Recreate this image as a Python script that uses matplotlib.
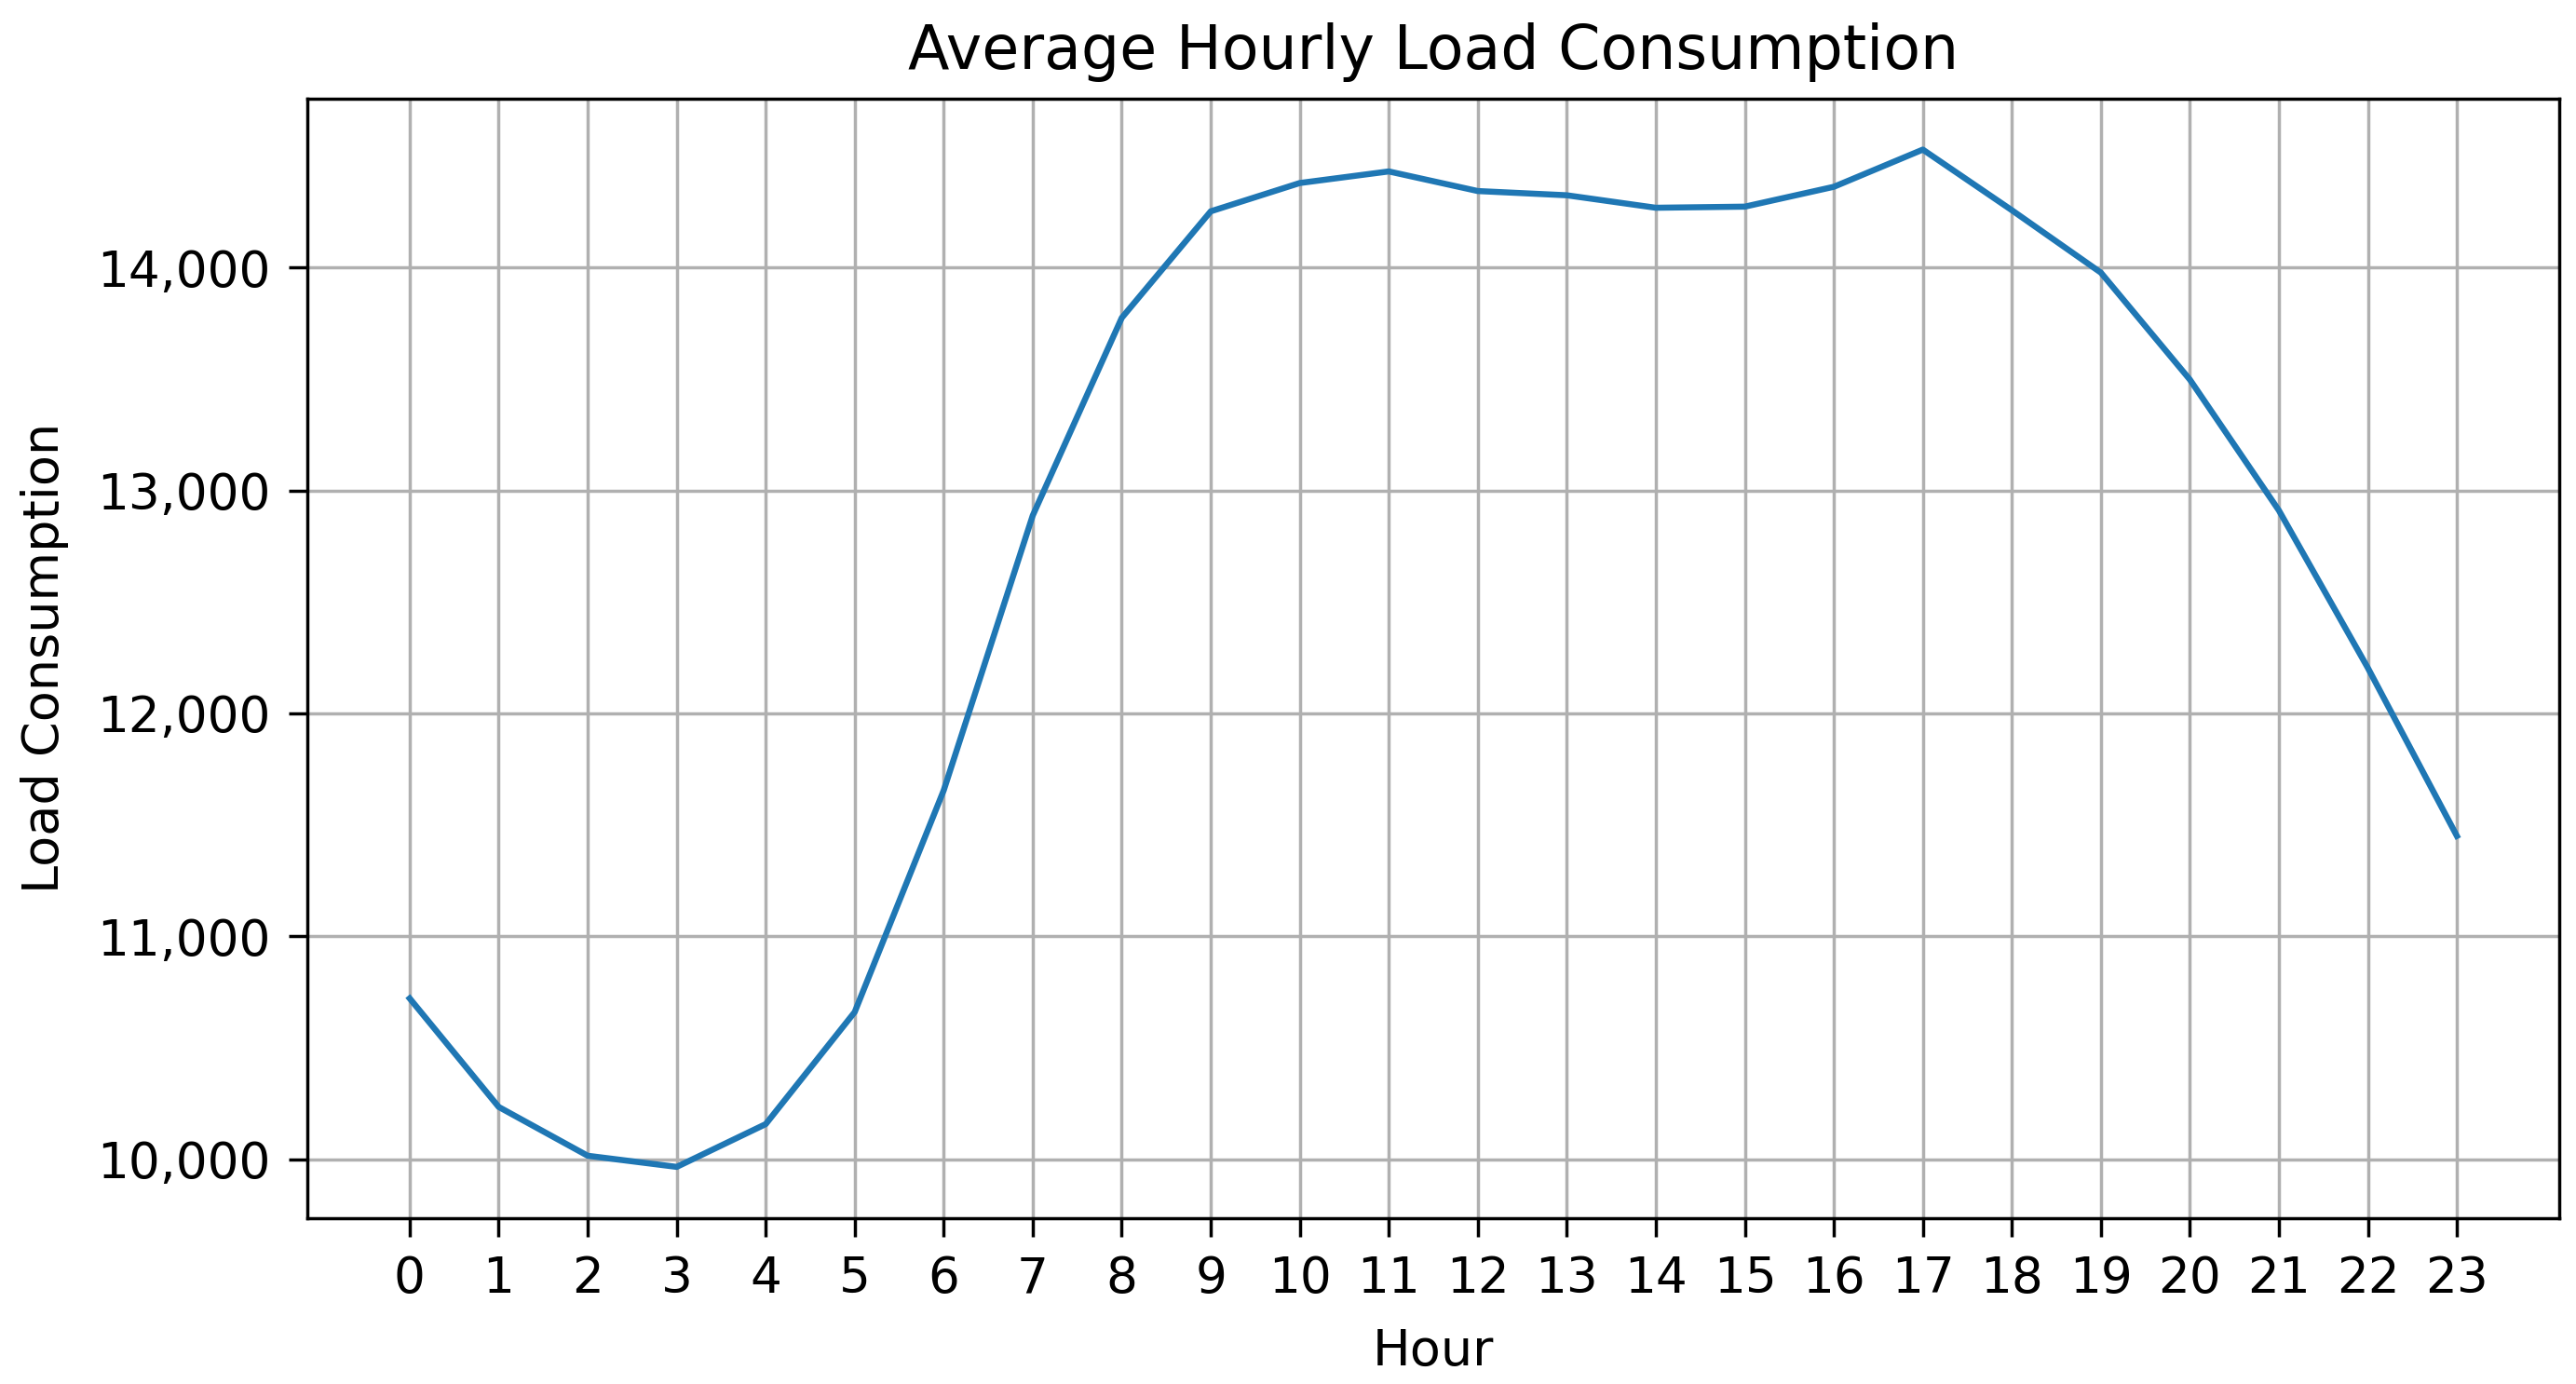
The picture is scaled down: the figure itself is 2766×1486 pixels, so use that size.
import matplotlib
matplotlib.use("Agg")
import matplotlib.pyplot as plt
from matplotlib.ticker import StrMethodFormatter

hours = list(range(24))
load = [10721, 10234, 10015, 9965, 10157, 10660, 11655, 12888, 13775, 14253,
        14380, 14432, 14344, 14325, 14269, 14274, 14363, 14530, 14258, 13978,
        13498, 12911, 12204, 11450]
y_ticks = [10000, 11000, 12000, 13000, 14000]

DPI = 312
fig = plt.figure(figsize=(2766 / DPI, 1486 / DPI), dpi=DPI)
ax = fig.add_axes([330 / 2766, 1 - 1307.5 / 1486, (2748 - 330) / 2766, (1307.5 - 106) / 1486])
ax.plot(hours, load, color="#1f77b4", linewidth=1.5)
ax.set_title("Average Hourly Load Consumption", fontsize=15, pad=7.5)
ax.set_xlabel("Hour", fontsize=12.5, labelpad=6)
ax.set_ylabel("Load Consumption", fontsize=12.5, labelpad=7)
ax.set_xticks(hours)
ax.set_yticks(y_ticks)
ax.tick_params(labelsize=12.3, length=4.6, pad=4.5)
ax.yaxis.set_major_formatter(StrMethodFormatter("{x:,.0f}"))
ax.grid(True)
fig.savefig("out.png", dpi=DPI)
